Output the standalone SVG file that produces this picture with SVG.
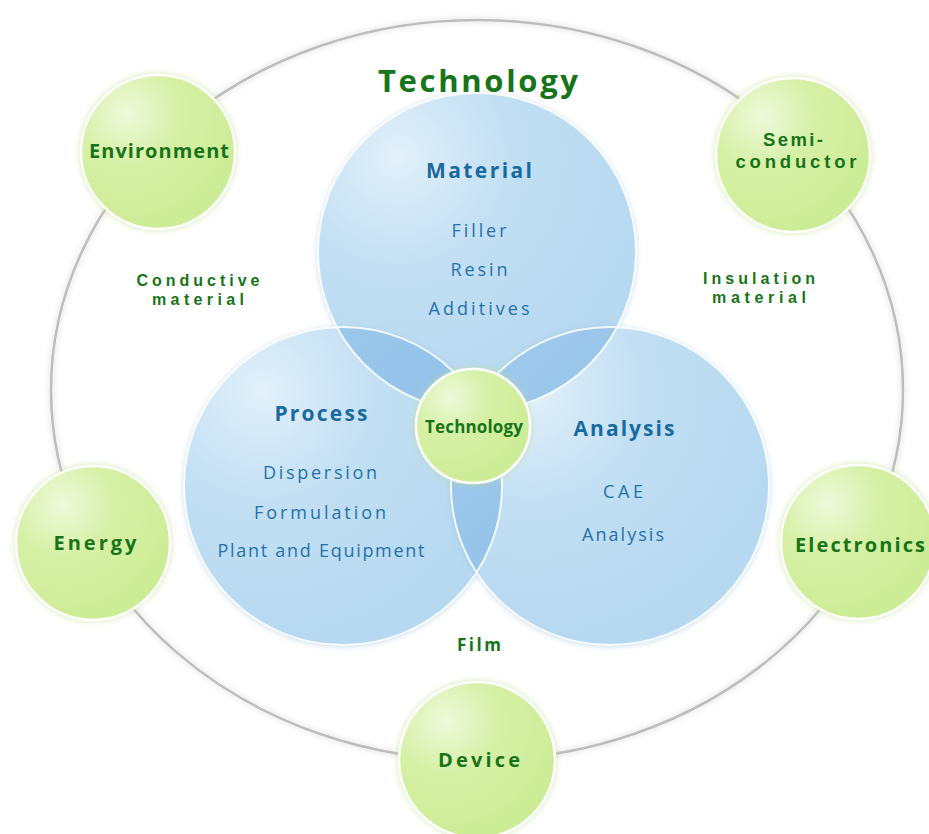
<svg xmlns="http://www.w3.org/2000/svg" width="929" height="834" viewBox="0 0 929 834">
<defs>
<radialGradient id="gGreen" cx="0.3" cy="0.25" r="0.75">
<stop offset="0" stop-color="#eef9da"/>
<stop offset="0.45" stop-color="#d6f0a6"/>
<stop offset="1" stop-color="#cdec96"/>
</radialGradient>
<radialGradient id="gBlue" cx="0.25" cy="0.2" r="0.8">
<stop offset="0" stop-color="#e2f0fa"/>
<stop offset="0.45" stop-color="#c2dff3"/>
<stop offset="1" stop-color="#b6d8f1"/>
</radialGradient>
<linearGradient id="gLens" x1="0" y1="0" x2="1" y2="1">
<stop offset="0" stop-color="#a3cbed"/>
<stop offset="1" stop-color="#84b9e5"/>
</linearGradient>
<filter id="glowG" x="-20%" y="-20%" width="140%" height="140%">
<feDropShadow dx="0" dy="0" stdDeviation="3" flood-color="#bfe08f" flood-opacity="0.7"/>
</filter>
<filter id="glowB" x="-20%" y="-20%" width="140%" height="140%">
<feDropShadow dx="0" dy="1" stdDeviation="3" flood-color="#8fb8d8" flood-opacity="0.6"/>
</filter>
<filter id="ringSh" x="-10%" y="-10%" width="120%" height="120%">
<feDropShadow dx="0" dy="0" stdDeviation="3" flood-color="#000" flood-opacity="0.18"/>
</filter>
<clipPath id="cMat"><circle cx="477" cy="252" r="159"/></clipPath>
<clipPath id="cPro"><circle cx="343" cy="486" r="159"/></clipPath>
<style>
.ring{fill:none;stroke:#bdbdbd;stroke-width:2.5}
.gc{fill:url(#gGreen);stroke:#ffffff;stroke-width:2.5;filter:url(#glowG)}
.bc{fill:url(#gBlue);filter:url(#glowB)}
.lens{fill:url(#gLens)}
.bo{fill:none;stroke:#ffffff;stroke-width:2;stroke-opacity:0.85}
.gl{font-family:"Open Sans","DejaVu Sans",sans-serif;font-weight:bold;fill:#187418;text-anchor:middle}
.g2{font-family:"Liberation Sans",Arial,sans-serif;font-weight:bold;fill:#187418;text-anchor:middle}
.bh{font-family:"Open Sans","DejaVu Sans",sans-serif;font-weight:bold;fill:#186a9f;text-anchor:middle;font-size:21px}
.bt{font-family:"Open Sans","DejaVu Sans",sans-serif;fill:#2472a8;text-anchor:middle;font-size:18px}
</style>
</defs>
<rect width="929" height="834" fill="#ffffff"/>
<g id="connectors">
<ellipse class="ring" cx="477" cy="390" rx="426" ry="370" filter="url(#ringSh)"/>
</g>
<text class="gl" x="478" y="92" font-size="31" textLength="200" lengthAdjust="spacing">Technology</text>
<g id="environment"><circle class="gc" cx="158" cy="152" r="77"/><text class="gl" x="159" y="158" font-size="20" textLength="140" lengthAdjust="spacing">Environment</text></g>
<g id="semiconductor"><circle class="gc" cx="793" cy="155" r="77"/><text class="g2" x="793" y="146" font-size="18.5" textLength="60" lengthAdjust="spacing">Semi-</text><text class="g2" x="796" y="168" font-size="18.5" textLength="121" lengthAdjust="spacing">conductor</text></g>
<g id="energy"><circle class="gc" cx="93" cy="543" r="77"/><text class="gl" x="95" y="550" font-size="20" textLength="83" lengthAdjust="spacing">Energy</text></g>
<g id="electronics"><circle class="gc" cx="858" cy="542" r="77"/><text class="gl" x="860" y="552" font-size="20" textLength="130" lengthAdjust="spacing">Electronics</text></g>
<g id="device"><circle class="gc" cx="477" cy="760" r="78"/><text class="gl" x="479" y="767" font-size="20" textLength="82" lengthAdjust="spacing">Device</text></g>
<g id="labels">
<text class="g2" x="198" y="286" font-size="16" textLength="123" lengthAdjust="spacing">Conductive</text>
<text class="g2" x="198" y="305" font-size="16" textLength="92" lengthAdjust="spacing">material</text>
<text class="g2" x="759" y="284" font-size="16" textLength="112" lengthAdjust="spacing">Insulation</text>
<text class="g2" x="759" y="303" font-size="16" textLength="94" lengthAdjust="spacing">material</text>
<text class="gl" x="479" y="651" font-size="17" textLength="44" lengthAdjust="spacing">Film</text>
</g>
<g id="venn">
<circle class="bc" cx="477" cy="252" r="159"/>
<circle class="bc" cx="343" cy="486" r="159"/>
<circle class="bc" cx="610" cy="486" r="159"/>
<g clip-path="url(#cMat)"><circle class="lens" cx="343" cy="486" r="159"/></g>
<g clip-path="url(#cMat)"><circle class="lens" cx="610" cy="486" r="159"/></g>
<g clip-path="url(#cPro)"><circle class="lens" cx="610" cy="486" r="159"/></g>
<circle class="bo" cx="477" cy="252" r="159"/>
<circle class="bo" cx="343" cy="486" r="159"/>
<circle class="bo" cx="610" cy="486" r="159"/>
</g>
<g id="material">
<text class="bh" x="479" y="178" textLength="106" lengthAdjust="spacing">Material</text>
<text class="bt" x="479" y="237" textLength="55" lengthAdjust="spacing">Filler</text>
<text class="bt" x="479" y="276" textLength="57" lengthAdjust="spacing">Resin</text>
<text class="bt" x="479" y="315" textLength="101" lengthAdjust="spacing">Additives</text>
</g>
<g id="process">
<text class="bh" x="321" y="421" textLength="93" lengthAdjust="spacing">Process</text>
<text class="bt" x="320" y="479" textLength="114" lengthAdjust="spacing">Dispersion</text>
<text class="bt" x="320" y="519" textLength="132" lengthAdjust="spacing">Formulation</text>
<text class="bt" x="321" y="557" textLength="207" lengthAdjust="spacing">Plant and Equipment</text>
</g>
<g id="analysis">
<text class="bh" x="624" y="436" textLength="101" lengthAdjust="spacing">Analysis</text>
<text class="bt" x="623" y="498" textLength="40" lengthAdjust="spacing">CAE</text>
<text class="bt" x="623" y="541" textLength="82" lengthAdjust="spacing">Analysis</text>
</g>
<g id="technology">
<circle class="gc" cx="473" cy="426" r="57"/>
<text class="gl" x="474" y="433" font-size="17" textLength="98" lengthAdjust="spacing">Technology</text>
</g>
</svg>
